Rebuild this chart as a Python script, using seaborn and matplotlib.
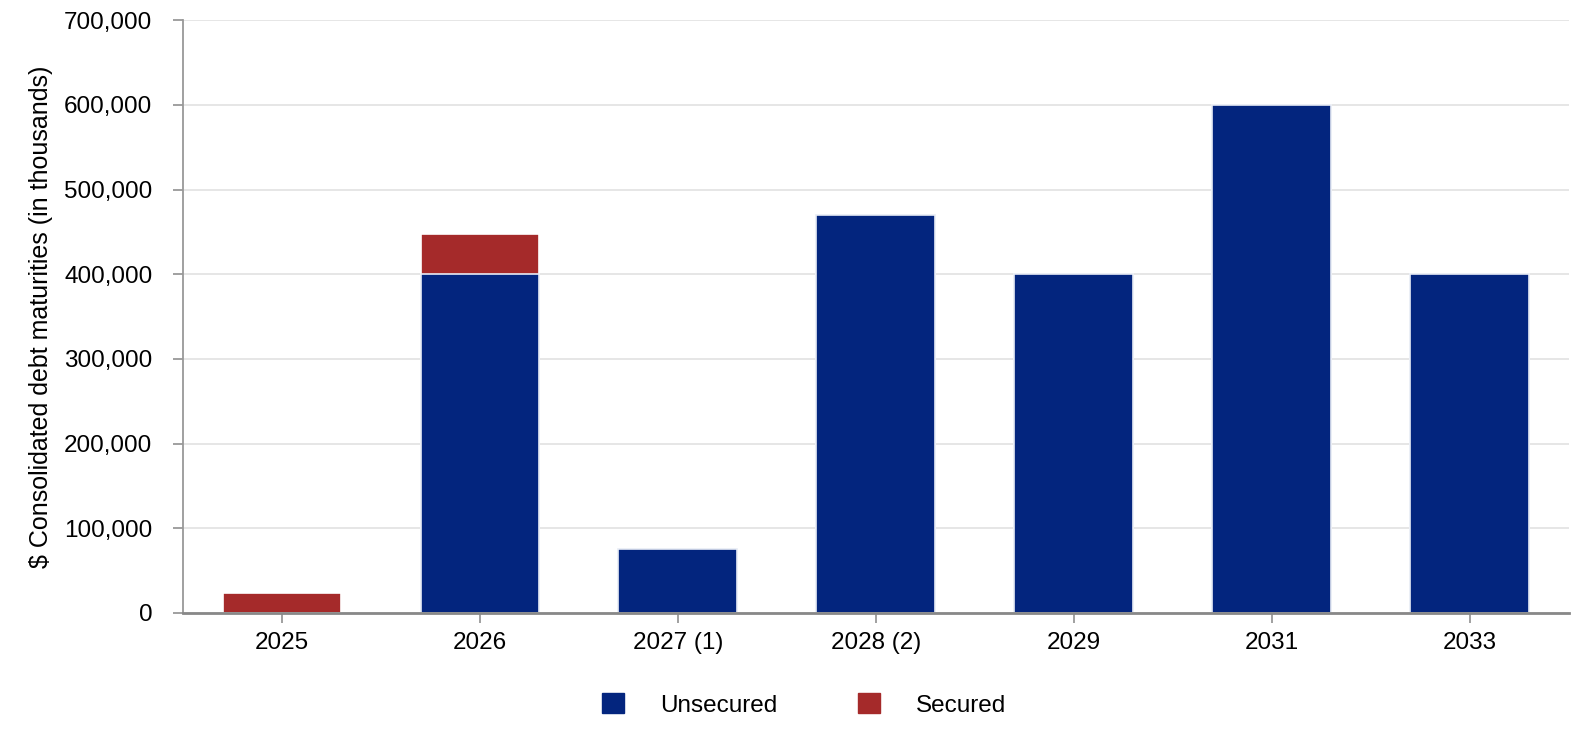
import numpy as np
import pandas as pd
import matplotlib
matplotlib.use('Agg')
import matplotlib.pyplot as plt
import seaborn as sns
from matplotlib.patches import Patch
from matplotlib.ticker import FuncFormatter

years = ['2025', '2026', '2027 (1)', '2028 (2)', '2029', '2031', '2033']
unsecured = [0, 400000, 75000, 470000, 400000, 600000, 400000]
secured = [23000, 47000, 0, 0, 0, 0, 0]

BLUE = '#03257e'
RED = '#a52a2a'
FS = 17.5

sns.set_style('white')
plt.rcParams['font.family'] = ['Liberation Sans', 'DejaVu Sans']

df = pd.DataFrame({'year': years, 'unsecured': unsecured, 'secured': secured})
df['total'] = df['unsecured'] + df['secured']

fig = plt.figure(figsize=(15.86, 7.5), dpi=100)
ax = fig.add_axes([0.1154, 0.1827, 0.8736, 0.7903])

# stacked: totals in red, unsecured drawn on top in blue
sns.barplot(data=df, x='year', y='total', color=RED, width=0.6, saturation=1,
            edgecolor='white', linewidth=1.2, ax=ax, zorder=3)
sns.barplot(data=df[df['unsecured'] > 0], x='year', y='unsecured', order=years,
            color=BLUE, width=0.6, saturation=1, edgecolor='#e8ecf5', linewidth=1.2,
            ax=ax, zorder=4)

ax.set_xlim(-0.5, 6.5)
ax.set_ylim(0, 700000)
ax.set_yticks(np.arange(0, 700001, 100000))
ax.yaxis.set_major_formatter(FuncFormatter(lambda v, p: f'{int(v):,}'))
ax.grid(axis='y', color='#e4e4e4', linewidth=1.3, zorder=0)
ax.set_axisbelow(True)

for s in ['top', 'right']:
    ax.spines[s].set_visible(False)
ax.spines['left'].set_color('#999999')
ax.spines['left'].set_linewidth(1.3)
ax.spines['bottom'].set_color('#888888')
ax.spines['bottom'].set_linewidth(2)
ax.spines['bottom'].set_zorder(5)

ax.tick_params(axis='both', length=7, width=1.3, color='#999999',
               labelsize=FS, labelcolor='black', left=True, bottom=True)
ax.tick_params(axis='y', pad=15)
ax.tick_params(axis='x', pad=7)
ax.set_xlabel('')
ax.set_ylabel('$ Consolidated debt maturities (in thousands)', fontsize=18,
              color='black', labelpad=8)

handles = [Patch(facecolor=BLUE, edgecolor=BLUE, label='Unsecured'),
           Patch(facecolor=RED, edgecolor=RED, label='Secured')]
fig.legend(handles=handles, loc='center', bbox_to_anchor=(0.507, 0.06), ncol=2,
           frameon=False, fontsize=FS, labelcolor='black', handlelength=0.9,
           handleheight=0.9, handletextpad=1.5, columnspacing=3.3)

fig.savefig('out.png', dpi=100)
